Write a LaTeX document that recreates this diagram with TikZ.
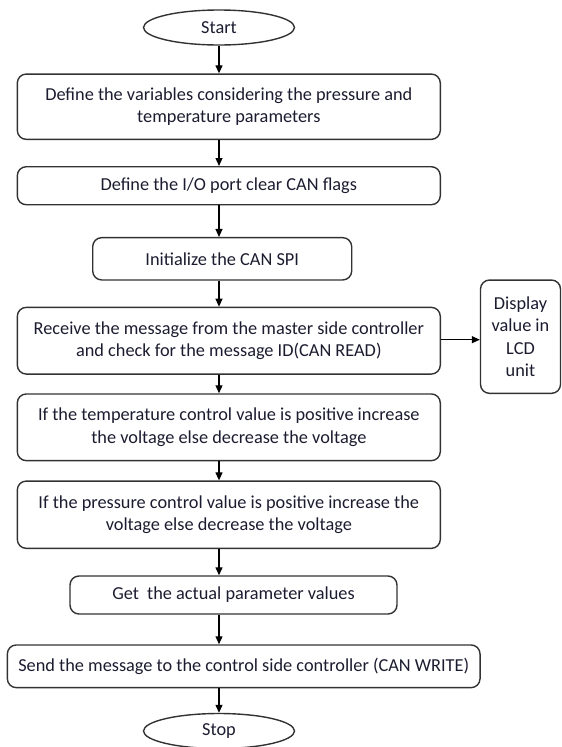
\documentclass[tikz,border=0pt]{standalone}
\usepackage{fontspec}
\setmainfont{Carlito}
\usetikzlibrary{shapes.geometric,arrows.meta}
\definecolor{boxline}{RGB}{50,50,50}
\definecolor{txt}{RGB}{28,28,48}
\begin{document}
\begin{tikzpicture}[x=1pt,y=-1pt,
  every node/.style={font=\fontsize{18.3}{22.6}\selectfont, text=txt, inner sep=0pt, align=center},
  procbox/.style={draw=boxline, line width=1.4pt, rounded corners=9pt},
  term/.style={draw=boxline, line width=1.4pt, ellipse},
  flow/.style={draw=black, line width=1.2pt, -{Triangle[length=8pt,width=7pt]}}]
\useasboundingbox (0,0) rectangle (562,747);
\node[term, minimum width=151pt, minimum height=35pt] (start) at (219,27.5) {Start};
\node[procbox, minimum width=423pt, minimum height=65.3pt] (b1) at (228.8,106.7)
  {Define the variables considering the pressure and\\temperature parameters};
\node[procbox, minimum width=423pt, minimum height=38pt] (b2) at (228.8,185.7)
  {Define the I/O port clear CAN flags};
\node[procbox, minimum width=259pt, minimum height=42.3pt] (b3) at (222.2,258.8)
  {Initialize the CAN SPI};
\node[procbox, minimum width=423pt, minimum height=66.7pt] (b4) at (228.8,340.7)
  {Receive the message from the master side controller\\and check for the message ID(CAN READ)};
\node[procbox, minimum width=80pt, minimum height=113.3pt, text depth=0pt] (disp) at (520.5,336.7)
  {\fontsize{18.3}{23.3}\selectfont Display\\value in\\LCD\\unit};
\node[procbox, minimum width=423pt, minimum height=66.7pt] (b5) at (228.8,427.3)
  {If the temperature control value is positive increase\\the voltage else decrease the voltage};
\node[procbox, minimum width=423pt, minimum height=67.3pt] (b6) at (228.8,514.7)
  {If the pressure control value is positive increase the\\voltage else decrease the voltage};
\node[procbox, minimum width=327pt, minimum height=38pt] (b7) at (233.5,595)
  {Get\ \ the actual parameter values};
\node[procbox, minimum width=472.7pt, minimum height=42.7pt] (b8) at (243.7,666.3)
  {Send the message to the control side controller (CAN WRITE)};
\node[term, minimum width=151pt, minimum height=35pt] (stop) at (219,731) {Stop};
\path[flow] (start.south) -- (start.south |- b1.north);
\path[flow] (b1.south -| start.south) -- (b2.north -| start.south);
\path[flow] (b2.south -| start.south) -- (b3.north -| start.south);
\path[flow] (b3.south -| start.south) -- (b4.north -| start.south);
\path[flow] (b4.south -| start.south) -- (b5.north -| start.south);
\path[flow] (b5.south -| start.south) -- (b6.north -| start.south);
\path[flow] (b6.south -| start.south) -- (b7.north -| start.south);
\path[flow] (b7.south -| start.south) -- (b8.north -| start.south);
\path[flow] (b8.south -| start.south) -- (stop.north);
\path[flow] ([yshift=1pt]b4.east) -- ([yshift=1pt]b4.east -| disp.west);
\end{tikzpicture}
\end{document}
